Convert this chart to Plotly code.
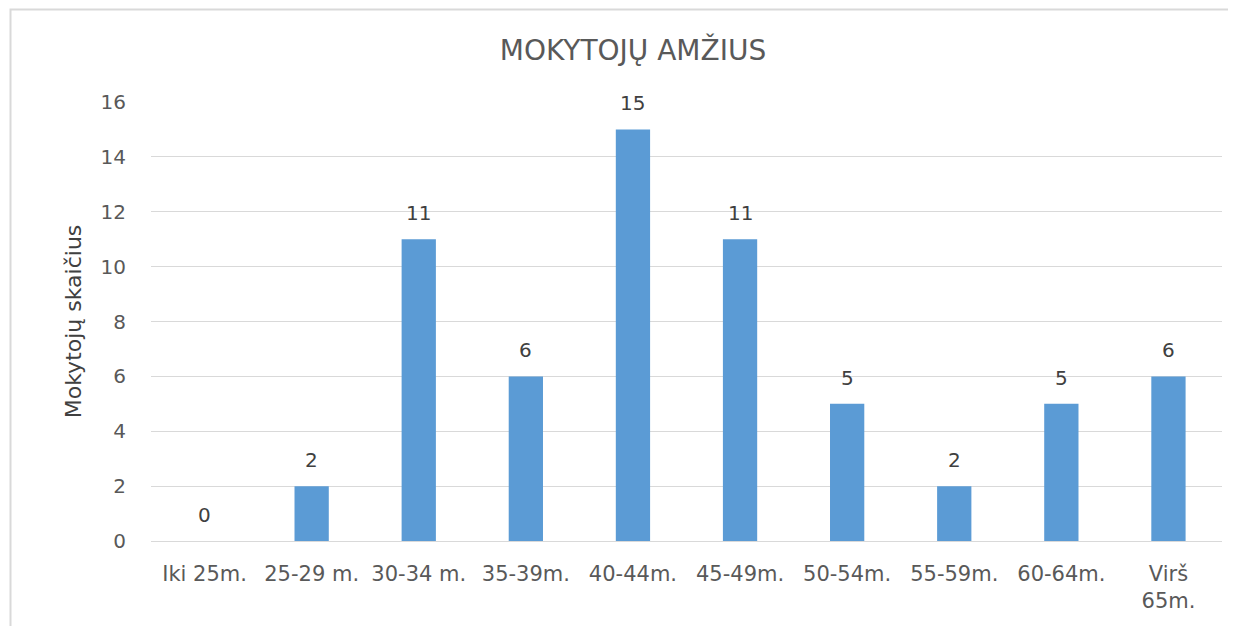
import plotly.graph_objects as go

categories = ["Iki 25m.", "25-29 m.", "30-34 m.", "35-39m.", "40-44m.",
              "45-49m.", "50-54m.", "55-59m.", "60-64m.", "Virš<br>65m."]
values = [0, 2, 11, 6, 15, 11, 5, 2, 5, 6]
y_ticks = [0, 2, 4, 6, 8, 10, 12, 14, 16]

title_text = "MOKYTOJŲ AMŽIUS"
y_title = "Mokytojų skaičius"

FONT = "DejaVu Sans"
BAR_COLOR = "#5b9bd5"
GRID = "#d9d9d9"
TICK_COLOR = "#595959"

W, H = 1228, 618
L, R, T, B = 143, 14, 94, 85
PW, PH = W - L - R, H - T - B

fig = go.Figure()
fig.add_trace(go.Bar(x=categories, y=values, marker=dict(color=BAR_COLOR, line=dict(width=0)),
                     hoverinfo="x+y"))

for c, v in zip(categories, values):
    fig.add_annotation(x=c, y=v, text=str(v), showarrow=False, yanchor="middle", yshift=26,
                       font=dict(family=FONT, size=20, color="#404040"))

fig.update_layout(
    width=W, height=H,
    margin=dict(l=L, r=R, t=T, b=B),
    paper_bgcolor="white", plot_bgcolor="white",
    bargap=0.68,
    showlegend=False,
    title=dict(text=title_text, x=625 / W, xanchor="center", y=1 - 42 / H, yanchor="middle",
               font=dict(family=FONT, size=28, color="#595959")),
    xaxis=dict(type="category", tickfont=dict(family=FONT, size=21, color=TICK_COLOR),
               showgrid=False, showline=False, ticks="", zeroline=False,
               ticklabelstandoff=18),
    yaxis=dict(range=[0, 16], tickvals=y_ticks, showgrid=True, gridcolor=GRID, gridwidth=1,
               zeroline=True, zerolinecolor=GRID, zerolinewidth=1, showline=False, ticks="",
               ticklabelstandoff=24,
               tickfont=dict(family=FONT, size=20, color=TICK_COLOR),
               title=dict(text=y_title, standoff=12, font=dict(family=FONT, size=22, color="#404040"))),
    shapes=[dict(type="rect", xref="paper", yref="paper",
                 x0=(2.5 - L) / PW, x1=1.05, y0=-0.5, y1=(PH + T - 1.5) / PH,
                 line=dict(color=GRID, width=2), fillcolor="rgba(0,0,0,0)", layer="below")],
)

fig.write_html("out.html")
